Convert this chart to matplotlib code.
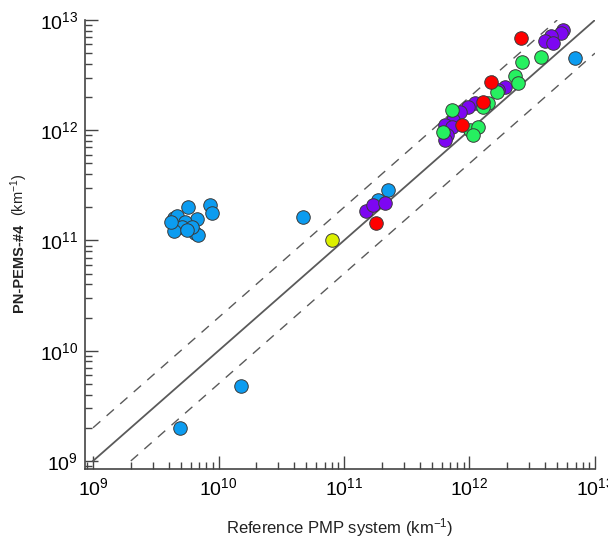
import numpy as np
import matplotlib.pyplot as plt
from matplotlib.ticker import LogLocator, LogFormatterSciNotation, NullFormatter

plt.rcParams['font.family'] = ['Liberation Sans', 'DejaVu Sans']
plt.rcParams['mathtext.fontset'] = 'custom'
plt.rcParams['mathtext.rm'] = 'Liberation Sans'
plt.rcParams['mathtext.it'] = 'Liberation Sans:italic'
plt.rcParams['mathtext.bf'] = 'Liberation Sans:bold'

# values (km^-1)
blue_ref = [5.7e9, 8.6e9, 8.8e9, 6.7e9, 4.4e9, 4.65e9, 5.4e9, 5.1e9, 4.4e9, 6.5e9, 6.9e9, 6.1e9, 4.2e9, 5.6e9,
            4.7e10, 1.51e10, 4.9e9, 2.25e11, 1.88e11, 6.9e12]
blue_pems = [2.0e11, 2.1e11, 1.79e11, 1.56e11, 1.59e11, 1.67e11, 1.48e11, 1.33e11, 1.23e11, 1.18e11, 1.12e11, 1.33e11, 1.48e11, 1.25e11,
             1.64e11, 4.8e9, 2.0e9, 2.87e11, 2.33e11, 4.5e12]

purple_ref = [5.6e12, 5.4e12, 4.5e12, 4.0e12, 4.65e12,
              1.92e12, 1.70e12, 1.11e12, 9.8e11, 8.4e11, 7.4e11, 6.4e11, 7.2e11, 6.6e11, 6.4e11,
              1.50e11, 1.69e11, 2.12e11]
purple_pems = [8.1e12, 7.6e12, 7.1e12, 6.45e12, 6.15e12,
               2.48e12, 2.32e12, 1.75e12, 1.64e12, 1.47e12, 1.24e12, 1.12e12, 1.08e12, 9.1e11, 8.2e11,
               1.86e11, 2.10e11, 2.17e11]

green_ref = [2.31e12, 2.45e12, 1.65e12, 1.41e12, 1.29e12, 7.2e11, 6.2e11, 1.01e12, 1.17e12, 1.07e12, 3.7e12, 2.6e12]
green_pems = [3.1e12, 2.67e12, 2.24e12, 1.75e12, 1.64e12, 1.53e12, 9.7e11, 1.0e12, 1.06e12, 9.1e11, 4.65e12, 4.2e12]

red_ref = [1.80e11, 2.56e12, 1.49e12, 1.27e12, 8.7e11]
red_pems = [1.43e11, 6.8e12, 2.73e12, 1.79e12, 1.12e12]

yellow_ref = [8.0e10]
yellow_pems = [1.01e11]

# 1:1 line and factor-2 bands
one_x = [1e9, 1e13]
one_y = [1e9, 1e13]
up_x = [1e9, 5e12]
up_y = [2e9, 1e13]
lo_x = [2e9, 1e13]
lo_y = [1e9, 5e12]

fig = plt.figure(figsize=(6.08, 5.43), dpi=100)
ax = fig.add_axes([0.1398, 0.1363, 0.8388, 0.8269])

ax.plot(one_x, one_y, color='#5a5a5a', linewidth=1.3, zorder=2)
ax.plot(up_x, up_y, color='#5a5a5a', linewidth=1.0, dashes=(7, 6), zorder=2)
ax.plot(lo_x, lo_y, color='#5a5a5a', linewidth=1.0, dashes=(7, 6), zorder=2)

mk = dict(s=95, edgecolors='#3a3a3a', linewidths=0.7, zorder=3, clip_on=False)
ax.scatter(blue_ref, blue_pems, color='#0c9cf0', **mk)
ax.scatter(purple_ref, purple_pems, color='#7d06f2', **mk)
ax.scatter(green_ref, green_pems, color='#26f060', **mk)
ax.scatter(yellow_ref, yellow_pems, color='#dcf000', **mk)
ax.scatter(red_ref, red_pems, color='#ff0000', **mk)

ax.set_xscale('log')
ax.set_yscale('log')
ax.set_xlim(10**8.936, 1e13)
ax.set_ylim(10**8.927, 1e13)

for axis in (ax.xaxis, ax.yaxis):
    axis.set_major_locator(LogLocator(base=10, numticks=10))
    axis.set_minor_locator(LogLocator(base=10, subs=np.arange(2, 10), numticks=20))
    axis.set_major_formatter(LogFormatterSciNotation())
    axis.set_minor_formatter(NullFormatter())

ax.spines['top'].set_visible(False)
ax.spines['right'].set_visible(False)
for s in ('left', 'bottom'):
    ax.spines[s].set_color('#444444')
    ax.spines[s].set_linewidth(1.2)

ax.tick_params(which='major', direction='in', length=9.5, width=1.0, color='#444444', labelsize=14)
ax.tick_params(which='minor', direction='in', length=5, width=1.0, color='#444444')
ax.tick_params(axis='x', which='major', pad=6)
ax.tick_params(axis='y', which='major', pad=5)

ax.set_xlabel('Reference PMP system (km$^{-1}$)', fontsize=12, labelpad=12, color='#222222')

# y label: bold instrument name followed by normal unit
t1 = fig.text(0.031, 0.4254, 'PN-PEMS-#4', rotation=90, fontsize=10.5, fontweight='bold',
              ha='center', va='bottom', color='#222222')
ax.annotate('  (km$^{-1}$)', xy=(0.5, 1.0), xycoords=t1, rotation=90, fontsize=10.5,
            ha='center', va='bottom', color='#222222', annotation_clip=False)

plt.savefig('out.png', dpi=100)
